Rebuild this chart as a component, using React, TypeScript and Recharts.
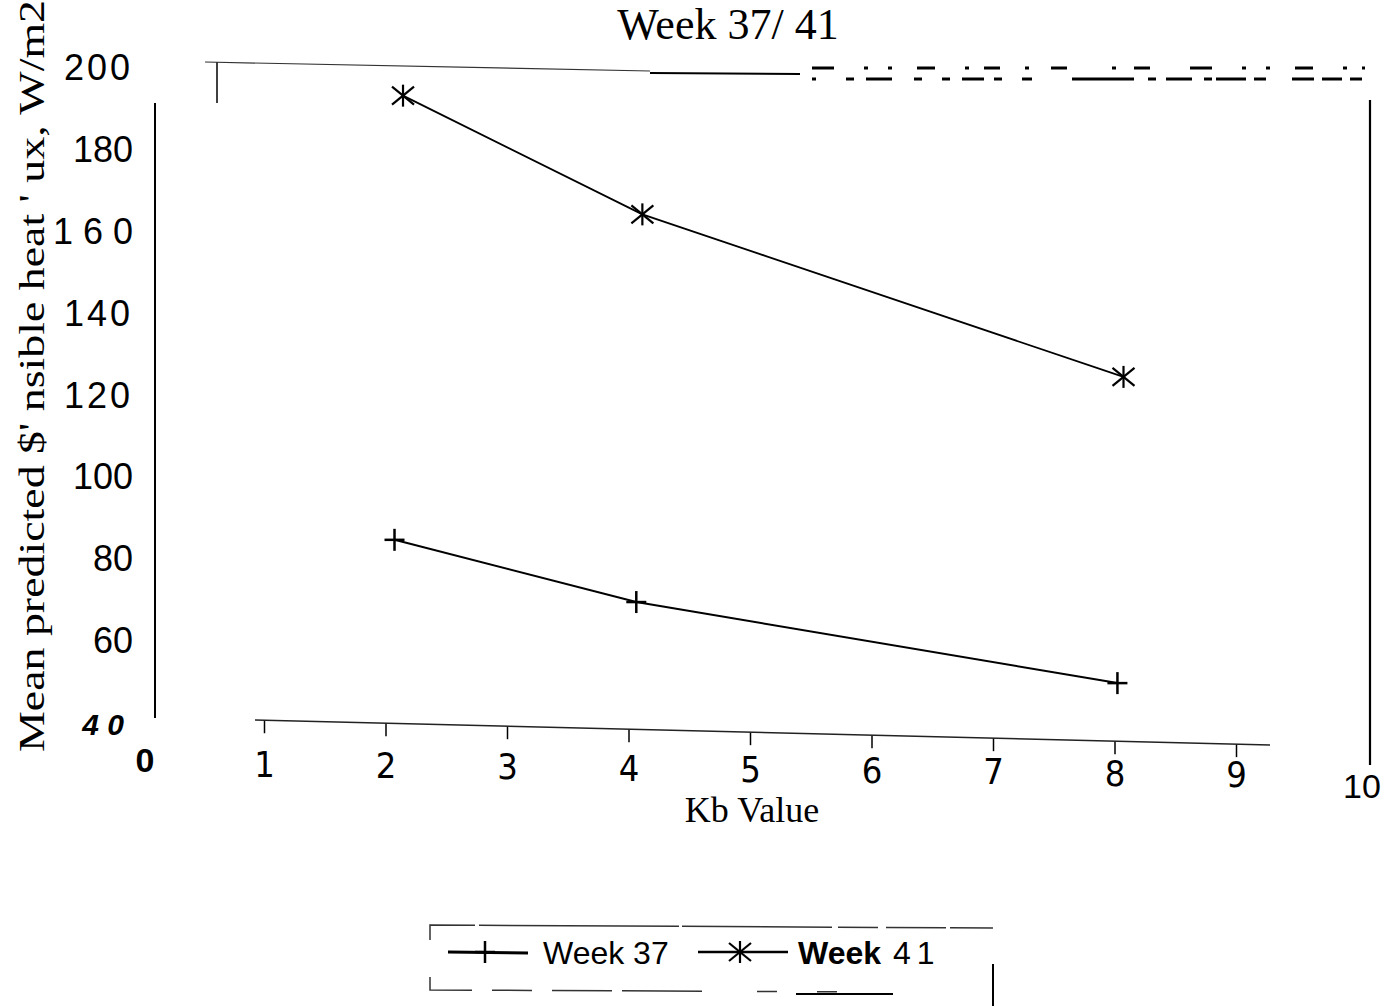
import React from 'react';
import { LineChart, Line, XAxis, YAxis, Legend } from 'recharts';

// Kb value vs mean predicted sensible heat flux (W/m2)
const kbTicks = [0, 1, 2, 3, 4, 5, 6, 7, 8, 9, 10];
const fluxTicks = [40, 60, 80, 100, 120, 140, 160, 180, 200];
const fluxTickLabels = ['4 0', '60', '80', '100', '120', '140', '1 6 0', '180', '200'];

const week37 = [
  { kb: 2.07, flux: 84.5 },
  { kb: 4.06, flux: 69.3 },
  { kb: 8.02, flux: 49.5 },
];
const week41 = [
  { kb: 2.14, flux: 193 },
  { kb: 4.11, flux: 164 },
  { kb: 8.07, flux: 124.3 },
];

const W = 1397;
const H = 1007;

// scanned axis is a bit tilted
const axisY = (x: number) => 720 + 0.0246 * (x - 255);

const PlusMark = ({ cx, cy }: any) => (
  <g stroke="#000" strokeWidth={2.5}>
    <line x1={cx - 10} y1={cy} x2={cx + 10} y2={cy} />
    <line x1={cx} y1={cy - 11} x2={cx} y2={cy + 11} />
  </g>
);

const StarMark = ({ cx, cy }: any) => (
  <g stroke="#000" strokeWidth={2.2}>
    <line x1={cx - 11} y1={cy - 9} x2={cx + 11} y2={cy + 9} />
    <line x1={cx - 11} y1={cy + 9} x2={cx + 11} y2={cy - 9} />
    <line x1={cx} y1={cy - 11} x2={cx} y2={cy + 11} />
  </g>
);

const YTick = ({ y, payload }: any) => {
  const i = fluxTicks.indexOf(payload.value);
  const label = fluxTickLabels[i] ?? String(payload.value);
  const is40 = payload.value === 40;
  const wide = payload.value === 120 || payload.value === 140 || payload.value === 200;
  return (
    <text
      x={is40 ? 124 : 133}
      y={y}
      dy={13}
      textAnchor="end"
      fill="#000"
      fontFamily="'Liberation Sans', Arial, sans-serif"
      fontSize={is40 ? 30 : 36}
      fontWeight={is40 ? 'bold' : 'normal'}
      fontStyle={is40 ? 'italic' : 'normal'}
      letterSpacing={wide ? 3 : 0}
    >
      {label}
    </text>
  );
};

const XTick = ({ x, payload }: any) => {
  const v = payload.value;
  if (v === 0) {
    return (
      <text x={x + 2} y={772} textAnchor="middle" fontFamily="'Liberation Sans', Arial, sans-serif"
        fontSize={34} fontWeight="bold" fill="#000">0</text>
    );
  }
  if (v === 10) {
    return (
      <text x={x + 4} y={798} textAnchor="middle" fontFamily="'Liberation Sans', Arial, sans-serif"
        fontSize={34} fill="#000">10</text>
    );
  }
  const ay = axisY(x);
  return (
    <g>
      <line x1={x} y1={ay} x2={x} y2={ay + 13} stroke="#000" strokeWidth={1.5} />
      <text x={x} y={777 + 0.01 * (x - 263)} textAnchor="middle"
        fontFamily="'Liberation Sans Narrow', 'DejaVu Sans Condensed', sans-serif"
        fontSize={36} fill="#000">{v}</text>
    </g>
  );
};

const LegendContent = () => (
  <svg width={570} height={85} style={{ display: 'block' }}>
    <path d="M2 18 V3 L565 6" stroke="#333" strokeWidth={1.5} fill="none" strokeDasharray="60 4 200 3 150 6 40 8" />
    <path d="M2 55 V68 L465 70" stroke="#333" strokeWidth={1.5} fill="none" strokeDasharray="55 20 40 20 60 10 80" />
    <line x1={368} y1={72} x2={465} y2={72} stroke="#000" strokeWidth={2} />
    <line x1={565} y1={42} x2={565} y2={84} stroke="#000" strokeWidth={2} />
    <line x1={20} y1={30} x2={100} y2={31} stroke="#000" strokeWidth={3} />
    <PlusMark cx={57} cy={30} />
    <text x={115} y={42} fontFamily="'Liberation Sans', Arial, sans-serif" fontSize={32} fill="#000">Week 37</text>
    <line x1={270} y1={30} x2={360} y2={30} stroke="#000" strokeWidth={2.5} />
    <StarMark cx={312} cy={30} />
    <text x={370} y={42} fontFamily="'Liberation Sans', Arial, sans-serif" fontSize={32} fill="#000">
      <tspan fontWeight="bold">Week</tspan>
      <tspan dx={12}>4</tspan>
      <tspan dx={6}>1</tspan>
    </text>
  </svg>
);

export default function App() {
  return (
    <div style={{ position: 'absolute', left: 0, top: 0, width: W, height: H, background: '#fff' }}>
      <LineChart width={W} height={H} margin={{ top: 67, right: 39, bottom: 255, left: 0 }}>
        <XAxis
          type="number"
          dataKey="kb"
          domain={[0, 10]}
          ticks={kbTicks}
          interval={0}
          axisLine={false}
          tickLine={false}
          height={30}
          tick={<XTick />}
        />
        <YAxis
          type="number"
          dataKey="flux"
          domain={[40, 200]}
          ticks={fluxTicks}
          interval={0}
          width={143}
          axisLine={false}
          tickLine={false}
          tick={<YTick />}
        />
        <Legend
          layout="horizontal"
          verticalAlign="middle"
          align="center"
          content={<LegendContent />}
          wrapperStyle={{ position: 'absolute', left: 428, top: 922, width: 570, height: 85 }}
        />
        <Line
          data={week37}
          dataKey="flux"
          name="Week 37"
          stroke="#000"
          strokeWidth={2}
          dot={(p: any) => <PlusMark key={`w37-${p.index}`} cx={p.cx} cy={p.cy} />}
          isAnimationActive={false}
        />
        <Line
          data={week41}
          dataKey="flux"
          name="Week 41"
          stroke="#000"
          strokeWidth={1.8}
          dot={(p: any) => <StarMark key={`w41-${p.index}`} cx={p.cx} cy={p.cy} />}
          isAnimationActive={false}
        />
      </LineChart>

      {/* frame bits, title and axis titles from the scan */}
      <svg width={W} height={H} style={{ position: 'absolute', left: 0, top: 0, pointerEvents: 'none' }}>
        <text x={728} y={39} textAnchor="middle" fontFamily="'Liberation Serif', 'Times New Roman', serif" fontSize={44} fill="#000">
          Week 37/ 41
        </text>
        <line x1={155} y1={103} x2={155} y2={718} stroke="#000" strokeWidth={2} />
        <line x1={217} y1={62} x2={217} y2={103} stroke="#000" strokeWidth={1.5} />
        <line x1={205} y1={62} x2={650} y2={71} stroke="#333" strokeWidth={1.2} />
        <line x1={650} y1={73} x2={800} y2={74} stroke="#000" strokeWidth={2} />
        <line x1={812} y1={68} x2={1365} y2={68} stroke="#000" strokeWidth={3} strokeDasharray="22 30 4 20 4 25 18 30 4 15 16 25 4 22 16 45 4 18 16 40" />
        <line x1={812} y1={79} x2={1365} y2={79} stroke="#000" strokeWidth={3} strokeDasharray="4 30 8 12 26 22 8 20 8 12 22 10 8 20 10 40 62 14 8 10 26 12 8" />
        <line x1={1370} y1={100} x2={1370} y2={765} stroke="#000" strokeWidth={2.2} />
        <line x1={255} y1={720} x2={1270} y2={745} stroke="#222" strokeWidth={1.5} />
        <text x={752} y={822} textAnchor="middle" fontFamily="'Liberation Serif', 'Times New Roman', serif" fontSize={36} fill="#000">
          Kb Value
        </text>
        <text
          transform="translate(44, 752) rotate(-90)"
          x={0}
          y={0}
          textLength={752}
          lengthAdjust="spacingAndGlyphs"
          fontFamily="'Liberation Serif', 'Times New Roman', serif"
          fontSize={36}
          fill="#000"
        >
          Mean predicted $' nsible heat ' ux,  W/m2
        </text>
      </svg>
    </div>
  );
}
